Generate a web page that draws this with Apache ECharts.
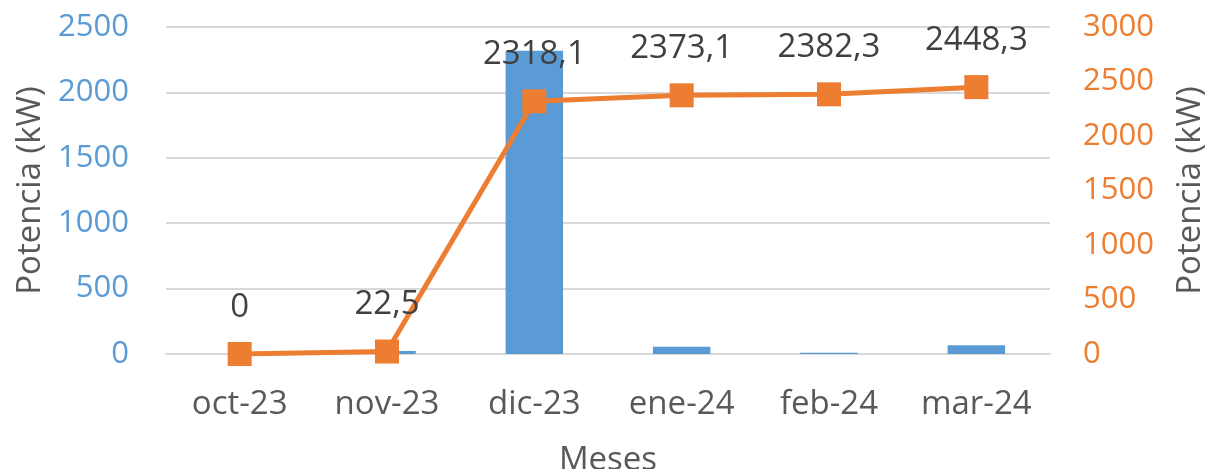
<!DOCTYPE html>
<html>
<head>
<meta charset="utf-8">
<script src="https://cdn.jsdelivr.net/npm/echarts@6/dist/echarts.min.js"></script>
<style>
	html, body { margin: 0; padding: 0; background: #fff; }
	#chart { width: 1211px; height: 469px; }
</style>
</head>
<body>
<div id="chart"></div>
<script>
var months = [ 'oct-23', 'nov-23', 'dic-23', 'ene-24', 'feb-24', 'mar-24' ];
var monthly = [ 0, 22.5, 2318.1, 55, 9.2, 66 ];
var cumulative = [ 0, 22.5, 2318.1, 2373.1, 2382.3, 2448.3 ];
var leftTicks = { min : 0, max : 2500, interval : 500 };
var rightTicks = { min : 0, max : 3000, interval : 500 };

var font = 'Open Sans';
var chart = echarts.init(document.getElementById('chart'));
var plain = function(v) {
	return String(v);
};
var option = {
	animation : false,
	textStyle : { fontFamily : font },
	grid : {
		left : 166,
		right : 161,
		top : 27,
		bottom : 115,
		containLabel : false,
		outerBoundsMode : 'none'
	},
	xAxis : {
		type : 'category',
		data : months,
		name : 'Meses',
		nameLocation : 'middle',
		nameGap : 90,
		nameTextStyle : { color : '#595959', fontSize : 33, fontFamily : font },
		axisLine : { lineStyle : { color : '#D9D9D9', width : 2 } },
		axisTick : { show : false },
		axisLabel : { color : '#595959', fontSize : 33, margin : 34, fontFamily : font }
	},
	yAxis : [ {
		type : 'value',
		min : leftTicks.min,
		max : leftTicks.max,
		interval : leftTicks.interval,
		name : 'Potencia (kW)',
		nameLocation : 'middle',
		nameGap : 119,
		nameTextStyle : { color : '#595959', fontSize : 33, fontFamily : font },
		axisLine : { show : false },
		axisTick : { show : false },
		axisLabel : { color : '#5B9BD5', fontSize : 31, margin : 37, fontFamily : font, formatter : plain },
		splitLine : { lineStyle : { color : '#D9D9D9', width : 2 } }
	}, {
		type : 'value',
		min : rightTicks.min,
		max : rightTicks.max,
		interval : rightTicks.interval,
		name : 'Potencia (kW)',
		nameLocation : 'middle',
		nameGap : 124,
		nameRotate : 90,
		nameTextStyle : { color : '#595959', fontSize : 33, fontFamily : font },
		axisLine : { show : false },
		axisTick : { show : false },
		axisLabel : { color : '#ED7D31', fontSize : 31, margin : 33, fontFamily : font, formatter : plain },
		splitLine : { show : false }
	} ],
	series : [ {
		type : 'bar',
		data : monthly,
		yAxisIndex : 0,
		barWidth : '39%',
		itemStyle : { color : '#5B9BD5' }
	}, {
		type : 'line',
		data : cumulative,
		yAxisIndex : 1,
		symbol : 'rect',
		symbolSize : 24,
		lineStyle : { color : '#ED7D31', width : 5 },
		itemStyle : { color : '#ED7D31' },
		label : {
			show : true,
			position : 'top',
			distance : 18,
			color : '#404040',
			fontSize : 33,
			fontFamily : font,
			formatter : function(p) {
				return String(p.value).replace('.', ',');
			}
		}
	} ]
};
chart.setOption(option);

window.onresize = function() {
	chart.resize();
}
</script>
</body>
</html>
